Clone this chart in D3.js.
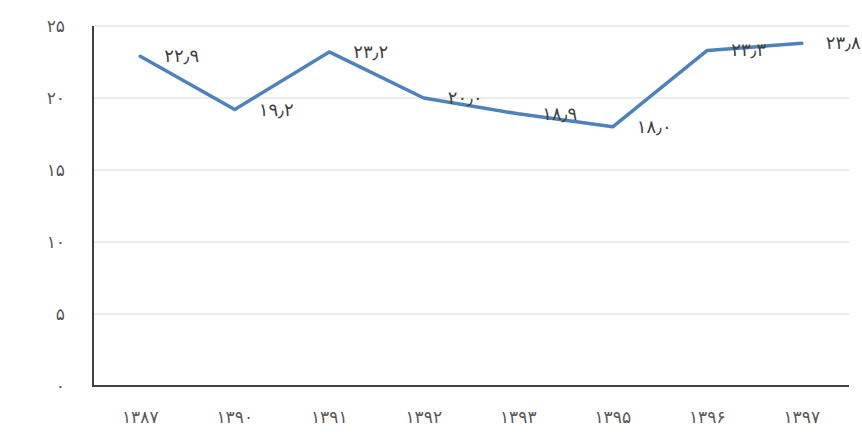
<!DOCTYPE html>
<html><head><meta charset="utf-8">
<script src="https://cdn.jsdelivr.net/npm/d3@7"></script>
<style>
html,body{margin:0;padding:0;background:#fff;}
svg{display:block;}
text{font-family:"DejaVu Sans",sans-serif;}
</style></head>
<body>
<svg id="chart" width="862" height="437"></svg>
<script>
const categories = ["۱۳۸۷","۱۳۹۰","۱۳۹۱","۱۳۹۲","۱۳۹۳","۱۳۹۵","۱۳۹۶","۱۳۹۷"];
const values = [22.9, 19.2, 23.2, 20.0, 18.9, 18.0, 23.3, 23.8];
const valueLabels = ["۲۲٫۹","۱۹٫۲","۲۳٫۲","۲۰٫۰","۱۸٫۹","۱۸٫۰","۲۳٫۳","۲۳٫۸"];
const yTicks = [0, 5, 10, 15, 20, 25];
const yTickLabels = ["۰","۵","۱۰","۱۵","۲۰","۲۵"];

(function(){
const svg = d3.select("#chart");
const mLeft = 93, mRight = 849, mTop = 26, mBottom = 386;

const x = d3.scaleBand().domain(categories).range([mLeft, mRight]);
const y = d3.scaleLinear().domain([0, 25]).range([mBottom, mTop]);

// gridlines
svg.append("g").selectAll("line").data(yTicks.filter(d => d > 0)).join("line")
  .attr("x1", mLeft).attr("x2", mRight)
  .attr("y1", d => y(d)).attr("y2", d => y(d))
  .attr("stroke", "#d9d9d9").attr("stroke-width", 1.2);

// y axis labels
const yAxis = d3.axisLeft(y).tickValues(yTicks).tickSize(0).tickPadding(28)
  .tickFormat((d, i) => yTickLabels[i]);
const gy = svg.append("g").attr("transform", `translate(${mLeft},0)`).call(yAxis);
gy.select(".domain").remove();
gy.selectAll("text").attr("fill", "#595959").style("font-size", "17px")
  .style("letter-spacing", "1px")
  .style("font-family", "DejaVu Sans, sans-serif");

// x axis
const xAxis = d3.axisBottom(x).tickSize(0).tickPadding(25);
const gx = svg.append("g").attr("transform", `translate(0,${mBottom})`).call(xAxis);
gx.select(".domain").remove();
gx.selectAll("text").attr("fill", "#595959").style("font-size", "17px")
  .style("letter-spacing", "1.5px")
  .style("font-family", "DejaVu Sans, sans-serif");

// axis lines
svg.append("line").attr("x1", mLeft).attr("x2", mLeft).attr("y1", mTop).attr("y2", mBottom)
  .attr("stroke", "#404040").attr("stroke-width", 2);
svg.append("line").attr("x1", mLeft - 1).attr("x2", mRight).attr("y1", mBottom).attr("y2", mBottom)
  .attr("stroke", "#404040").attr("stroke-width", 2);

const pts = categories.map((c, i) => ({c, v: values[i], l: valueLabels[i]}));

// line
const line = d3.line().x(d => x(d.c) + x.bandwidth() / 2).y(d => y(d.v));
svg.append("path").datum(pts).attr("d", line)
  .attr("fill", "none").attr("stroke", "#4f81bd").attr("stroke-width", 3.5)
  .attr("stroke-linejoin", "round").attr("stroke-linecap", "round");

// data labels
svg.append("g").selectAll("text").data(pts).join("text")
  .attr("x", d => x(d.c) + x.bandwidth() / 2 + 24)
  .attr("y", d => y(d.v) + 6)
  .attr("fill", "#404040").style("font-size", "18px")
  .style("letter-spacing", "1.5px")
  .text(d => d.l);
})();
</script>
</body></html>
